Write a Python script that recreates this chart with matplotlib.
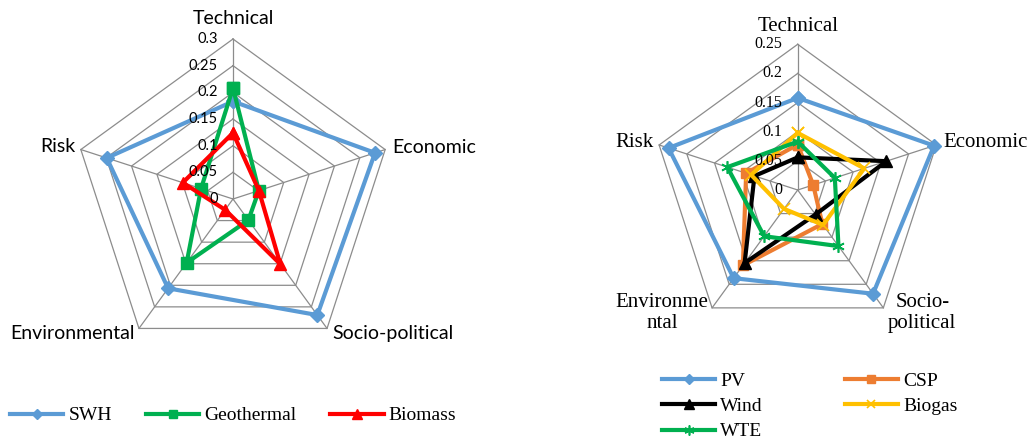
import numpy as np
import matplotlib
matplotlib.use("Agg")
import matplotlib.pyplot as plt
from matplotlib.lines import Line2D
from matplotlib.font_manager import FontProperties

plt.rcParams["font.family"] = ["Liberation Serif", "DejaVu Serif"]

# Criteria (clockwise from the top)
criteria = ["Technical", "Economic", "Socio-political", "Environmental", "Risk"]
criteria_right = ["Technical", "Economic", "Socio-\npolitical", "Environme\nntal", "Risk"]

# Left chart: solar water heating, geothermal, biomass
swh = [0.183, 0.280, 0.269, 0.207, 0.249]
geothermal = [0.208, 0.051, 0.049, 0.148, 0.063]
biomass = [0.124, 0.051, 0.151, 0.025, 0.099]
left_ticks = [0, 0.05, 0.1, 0.15, 0.2, 0.25, 0.3]

# Right chart: PV, CSP, wind, biogas, waste-to-energy
pv = [0.158, 0.246, 0.220, 0.187, 0.233]
csp = [0.078, 0.028, 0.072, 0.160, 0.093]
wind = [0.056, 0.160, 0.052, 0.155, 0.078]
biogas = [0.098, 0.120, 0.074, 0.040, 0.084]
wte = [0.083, 0.067, 0.119, 0.098, 0.127]
right_ticks = [0, 0.05, 0.1, 0.15, 0.2, 0.25]

BLUE = "#5B9BD5"
GREEN = "#00B050"
RED = "#FF0000"
ORANGE = "#ED7D31"
YELLOW = "#FFC000"
BLACK = "#000000"
GRID = "#8C8C8C"

W, H = 1034, 441
fig = plt.figure(figsize=(W / 100, H / 100), dpi=100)

n = len(criteria)
angles = np.linspace(0, 2 * np.pi, n, endpoint=False)
closed_angles = np.append(angles, angles[0])


def closed(v):
    return np.append(np.asarray(v, float), v[0])


def radar_axes(cx, cy, radius, rmax):
    ax = fig.add_axes([(cx - radius) / W, (H - cy - radius) / H,
                       2 * radius / W, 2 * radius / H], projection="polar")
    ax.set_theta_zero_location("N")
    ax.set_theta_direction(-1)
    ax.set_ylim(0, rmax)
    ax.set_axis_off()
    return ax


def draw_grid(ax, ticks):
    rmax = ticks[-1]
    for r in ticks[1:]:
        ax.plot(closed_angles, [r] * (n + 1), color=GRID, lw=0.9, zorder=1,
                clip_on=False)
    for a in angles:
        ax.plot([a, a], [0, rmax], color=GRID, lw=0.9, zorder=1, clip_on=False)


def draw_ticks(ax, ticks, **font):
    for t in ticks:
        ax.annotate(f"{t:g}", xy=(0, t), xytext=(-15, 0),
                    textcoords="offset pixels", ha="right", va="center",
                    zorder=5, **font)


# ---------------- left radar ----------------
axl = radar_axes(233, 199, 160, 0.3)
draw_grid(axl, left_ticks)
lfont = dict(family="Lato", color="#000000")
draw_ticks(axl, left_ticks, fontsize=10.5, **lfont)

left_series = [
    ("SWH", swh, BLUE, "D", 7),
    ("Geothermal", geothermal, GREEN, "s", 8),
    ("Biomass", biomass, RED, "^", 9),
]
left_handles = []
for name, vals, col, mk, ms in left_series:
    axl.plot(closed_angles, closed(vals), color=col, lw=3, marker=mk, ms=ms,
             mec=col, mfc=col, zorder=3, clip_on=False)
    left_handles.append(Line2D([], [], color=col, lw=3, marker=mk,
                               ms=ms * 0.75, mec=col, mfc=col))

left_label_offsets = [
    ((0, 20), "center", "center"),
    ((7, 2), "left", "center"),
    ((5, -5), "left", "center"),
    ((-4, -5), "right", "center"),
    ((-5, 3), "right", "center"),
]
for a, lab, (off, ha, va) in zip(angles, criteria, left_label_offsets):
    axl.annotate(lab, xy=(a, 0.3), xytext=off, textcoords="offset pixels",
                 ha=ha, va=va, fontsize=14, **lfont)

# ---------------- right radar ----------------
axr = radar_axes(797.7, 190, 145.7, 0.25)
draw_grid(axr, right_ticks)
rfont = dict(family="Liberation Serif", color="#000000")
draw_ticks(axr, right_ticks, fontsize=11.5, **rfont)

right_series = [
    ("PV", pv, BLUE, "D", 7),
    ("CSP", csp, ORANGE, "s", 7),
    ("Wind", wind, BLACK, "^", 9),
    ("Biogas", biogas, YELLOW, "x", 8),
    ("WTE", wte, GREEN, (6, 2, 0), 9),
]
right_handles = {}
for name, vals, col, mk, ms in right_series:
    mew = 1.2 if mk in ("x", (6, 2, 0)) else 1
    axr.plot(closed_angles, closed(vals), color=col, lw=3, marker=mk, ms=ms,
             mec=col, mfc=col, mew=mew, zorder=3, clip_on=False)
    right_handles[name] = Line2D([], [], color=col, lw=3, marker=mk,
                                ms=ms * 0.8, mec=col, mfc=col, mew=mew)

right_label_offsets = [
    ((0, 18), "center", "center"),
    ((7, 2), "left", "center"),
    ((39, -5), "center", "center"),
    ((-50, -5), "center", "center"),
    ((-6, 2), "right", "center"),
]
for a, lab, (off, ha, va) in zip(angles, criteria_right, right_label_offsets):
    axr.annotate(lab, xy=(a, 0.25), xytext=off, textcoords="offset pixels",
                 ha=ha, va=va, multialignment="center", fontsize=15,
                 linespacing=1.15, **rfont)

# ---------------- legends ----------------
leg_font = FontProperties(family="Liberation Serif", size=14)
fig.legend(left_handles, [s[0] for s in left_series], loc="center left",
           bbox_to_anchor=(10 / W, 1 - 415.5 / H), ncol=3, frameon=False,
           prop=leg_font, handlelength=2.75, handletextpad=0.25,
           columnspacing=1.75, borderpad=0, borderaxespad=0, numpoints=1)

order = ["PV", "Wind", "WTE", "CSP", "Biogas"]
fig.legend([right_handles[k] for k in order], order, loc="upper left",
           bbox_to_anchor=(662 / W, 1 - 372 / H), ncol=2, frameon=False,
           prop=leg_font, handlelength=2.75, handletextpad=0.25,
           columnspacing=4.2, labelspacing=0.4, borderpad=0,
           borderaxespad=0, numpoints=1)

fig.savefig("out.png", dpi=100)
